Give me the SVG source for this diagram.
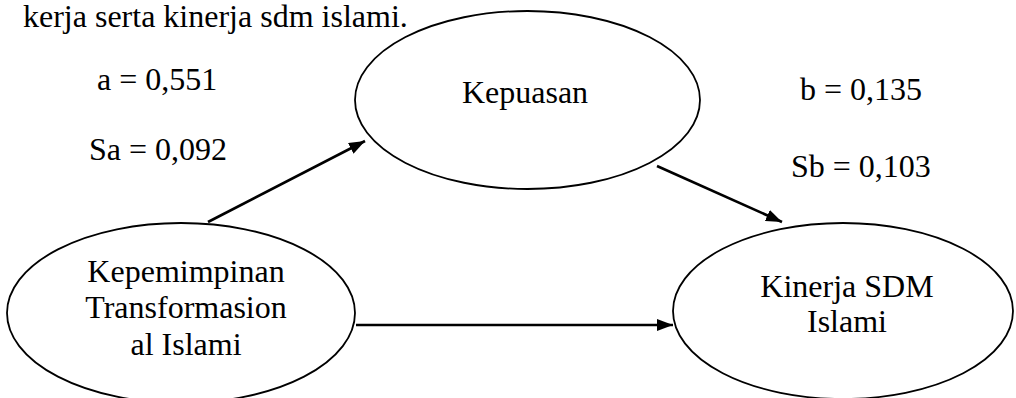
<svg xmlns="http://www.w3.org/2000/svg" width="1016" height="398" viewBox="0 0 1016 398">
<style>
text{font-family:'Liberation Serif','Times New Roman',Times,serif;font-size:32px;fill:#000}
.n{text-anchor:middle}
ellipse{fill:#fff;stroke:#000;stroke-width:1.8}
.c line{stroke:#000;stroke-width:2.6}
</style>
<defs>
<marker id="ah" viewBox="0 0 16 12" refX="16" refY="6" markerWidth="16" markerHeight="12" orient="auto" markerUnits="userSpaceOnUse">
<path d="M0,0 L16,6 L0,12 z" fill="#000"/>
</marker>
</defs>
<rect width="1016" height="398" fill="#fff"/>
<text x="23" y="27">kerja serta kinerja sdm islami.</text>
<text x="97" y="90">a = 0,551</text>
<text x="89" y="160">Sa = 0,092</text>
<text x="800" y="100">b = 0,135</text>
<text x="791" y="177">Sb = 0,103</text>
<g id="kepuasan">
<ellipse cx="527.5" cy="100" rx="172.5" ry="89"/>
<text class="n" x="525" y="103">Kepuasan</text>
</g>
<g id="kepemimpinan">
<ellipse cx="181" cy="313" rx="174" ry="90"/>
<text class="n" x="186" y="282">Kepemimpinan</text>
<text class="n" x="186" y="318">Transformasion</text>
<text class="n" x="186" y="355">al Islami</text>
</g>
<g id="kinerja">
<ellipse cx="843" cy="311" rx="170" ry="88"/>
<text class="n" x="847" y="297">Kinerja SDM</text>
<text class="n" x="847" y="332">Islami</text>
</g>
<g class="c" id="connectors">
<line x1="208" y1="222" x2="365" y2="141" marker-end="url(#ah)"/>
<line x1="657" y1="166" x2="782" y2="222" marker-end="url(#ah)"/>
<line x1="356" y1="325" x2="673" y2="325" marker-end="url(#ah)"/>
</g>
</svg>
